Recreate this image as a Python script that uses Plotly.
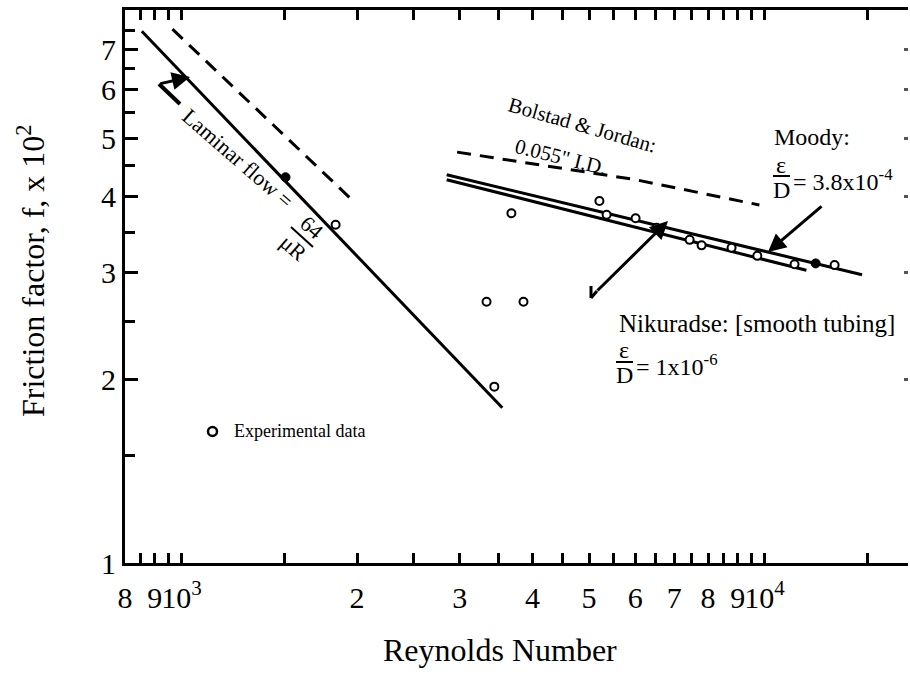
import numpy as np
import plotly.graph_objects as go

# ---------------- data ----------------
x_tick_vals = [800, 900, 1000, 2000, 3000, 4000, 5000, 6000, 7000, 8000, 9000, 10000]
x_tick_text = ["8", "9", "10<sup>3</sup>", "2", "3", "4", "5", "6", "7", "8", "9", "10<sup>4</sup>"]
x_minor_vals = [850, 950, 1500, 2500, 3500, 4500, 5500, 6500, 7500, 8500, 9500, 15000]
y_tick_vals = [1, 2, 3, 4, 5, 6, 7]
y_tick_text = ["1", "2", "3", "4", "5", "6", "7"]
y_minor_vals = [1.5, 2.5, 3.5, 4.5, 5.5, 6.5, 7.5]
y_right_ticks = [2, 3, 4, 5, 6, 7]

# experimental data (open circles)
exp_re_open = [1838, 3336, 3440, 3680, 3860, 5210, 5360, 6010, 6530, 7440, 7800, 8780, 9720, 11260, 13190]
exp_f_open = [3.60, 2.69, 1.95, 3.76, 2.69, 3.94, 3.74, 3.69, 3.56, 3.40, 3.33, 3.30, 3.20, 3.10, 3.09]
# experimental data (filled circles)
exp_re_filled = [1508, 12240]
exp_f_filled = [4.31, 3.11]

# laminar flow line (64/Re) and dashed companion
laminar_re = [855, 3550]
laminar_f = [7.49, 1.80]
laminar_dash_re = [965, 1981]
laminar_dash_f = [7.55, 3.92]

# Moody (eps/D = 3.8e-4) and Nikuradse smooth tubing
moody_re = [2850, 14700]
moody_f = [4.35, 2.98]
nik_re = [2850, 11800]
nik_f = [4.27, 3.03]

# Bolstad & Jordan 0.055" I.D. (dashed)
bj_re = [2970, 6010, 9800]
bj_f = [4.74, 4.27, 3.88]

# ---------------- layout helpers ----------------
W, H = 910, 677
L, R, T, B = 125, 2, 10, 114
PW, PH = W - L - R, H - T - B
FONT = "Liberation Serif, Times New Roman, serif"


def px(x):
    return (x - L) / PW


def py(y):
    return (H - B - y) / PH


fig = go.Figure()

line_style = dict(color="black", width=3)
fig.add_trace(go.Scatter(x=laminar_re, y=laminar_f, mode="lines", line=line_style))
fig.add_trace(go.Scatter(x=laminar_dash_re, y=laminar_dash_f, mode="lines",
                         line=dict(color="black", width=3, dash="14px,9px")))
fig.add_trace(go.Scatter(x=moody_re, y=moody_f, mode="lines", line=line_style))
fig.add_trace(go.Scatter(x=nik_re, y=nik_f, mode="lines", line=line_style))
fig.add_trace(go.Scatter(x=bj_re, y=bj_f, mode="lines",
                         line=dict(color="black", width=3, dash="14px,9px")))
fig.add_trace(go.Scatter(x=exp_re_open, y=exp_f_open, mode="markers",
                         marker=dict(symbol="circle", size=8, color="white",
                                     line=dict(color="black", width=2))))
fig.add_trace(go.Scatter(x=exp_re_filled, y=exp_f_filled, mode="markers",
                         marker=dict(symbol="circle", size=9, color="black",
                                     line=dict(color="black", width=1))))
# empty trace to carry the right-hand tick axis
fig.add_trace(go.Scatter(x=[], y=[], yaxis="y2", showlegend=False))

ann = []


def text(x, y, s, size, angle=0, xanchor="center", yanchor="middle"):
    ann.append(dict(x=px(x), y=py(y), xref="paper", yref="paper", text=s, showarrow=False,
                    textangle=angle, xanchor=xanchor, yanchor=yanchor,
                    font=dict(family=FONT, size=size, color="black")))


def arrow(hx, hy, tx, ty):
    ann.append(dict(x=px(hx), y=py(hy), xref="paper", yref="paper", text="", showarrow=True,
                    ax=tx - hx, ay=ty - hy, arrowhead=2, arrowsize=1.2, arrowwidth=3,
                    arrowcolor="black"))


# axis titles
text(31, 271, "Friction factor, f, x 10<sup>2</sup>", 32, angle=-90)
text(500, 650, "Reynolds Number", 32)

# laminar label
text(238, 158, "Laminar flow =", 22, angle=41)
text(312, 227, "64", 22, angle=41)
text(293, 248, "\u03bcR", 22, angle=41)

# Bolstad & Jordan
text(582, 125, "Bolstad &amp; Jordan:", 21, angle=16)
text(561, 157, "0.055\" I.D.", 21, angle=14)

# Moody
text(772, 137, "Moody:", 24, xanchor="left")
text(781, 165, "\u03b5", 24)
text(781, 190, "D", 24)
text(791, 180, "= 3.8x10<sup>-4</sup>", 24, xanchor="left")

# Nikuradse
text(617, 323, "Nikuradse: [smooth tubing]", 25, xanchor="left")
text(624, 350, "\u03b5", 24)
text(624, 375, "D", 24)
text(634, 365, "= 1x10<sup>-6</sup>", 24, xanchor="left")

# legend
text(232, 431, "Experimental data", 18, xanchor="left")

# arrows
arrow(768, 252, 823, 205)
arrow(668, 221, 596, 292)
arrow(190, 77, 159, 84)

shapes = []


def seg(x0, y0, x1, y1, w=3):
    shapes.append(dict(type="line", xref="paper", yref="paper", x0=px(x0), y0=py(y0),
                       x1=px(x1), y1=py(y1), line=dict(color="black", width=w)))


seg(291, 227, 313, 247, 2)          # 64/muR fraction bar
seg(773, 176, 790, 176, 2)          # eps/D bar (Moody)
seg(616, 362, 633, 362, 2)          # eps/D bar (Nikuradse)
seg(159, 84, 180, 104, 4)           # laminar arrow tail
seg(591, 286, 591, 298, 3)          # Nikuradse arrow foot
seg(591, 298, 597, 291, 3)
shapes.append(dict(type="circle", xref="paper", yref="paper",
                   x0=px(208), x1=px(217), y0=py(427), y1=py(436),
                   line=dict(color="black", width=2.5), fillcolor="white"))

fig.update_layout(
    width=W, height=H,
    margin=dict(l=L, r=R, t=T, b=B, pad=0),
    plot_bgcolor="white", paper_bgcolor="white",
    showlegend=False,
    annotations=ann, shapes=shapes,
    xaxis=dict(type="log", range=[np.log10(800), np.log10(800) + PW / 583.0],
               tickmode="array", tickvals=x_tick_vals, ticktext=x_tick_text,
               tickangle=0, ticklabelstandoff=6,
               ticks="inside", ticklen=10, tickwidth=2.5, tickcolor="black",
               showline=True, linewidth=3, linecolor="black", mirror="allticks",
               showgrid=False, zeroline=False,
               tickfont=dict(family=FONT, size=30, color="black"),
               minor=dict(tickmode="array", tickvals=x_minor_vals, ticks="inside",
                          ticklen=6, tickwidth=2.5, tickcolor="black", showgrid=False)),
    yaxis=dict(type="log", range=[0, PH / 608.0],
               tickmode="array", tickvals=y_tick_vals, ticktext=y_tick_text,
               ticks="inside", ticklen=13, tickwidth=2.5, tickcolor="black",
               showline=True, linewidth=3, linecolor="black", mirror=False,
               showgrid=False, zeroline=False,
               tickfont=dict(family=FONT, size=30, color="black"),
               minor=dict(tickmode="array", tickvals=y_minor_vals, ticks="inside",
                          ticklen=10, tickwidth=2.5, tickcolor="black", showgrid=False)),
    yaxis2=dict(type="log", range=[0, PH / 608.0], overlaying="y", side="right", anchor="x",
                tickmode="array", tickvals=y_right_ticks, ticks="inside", ticklen=4,
                tickwidth=3, tickcolor="#555", showticklabels=False, showline=False,
                showgrid=False, zeroline=False),
)

fig.write_html("out.html")
